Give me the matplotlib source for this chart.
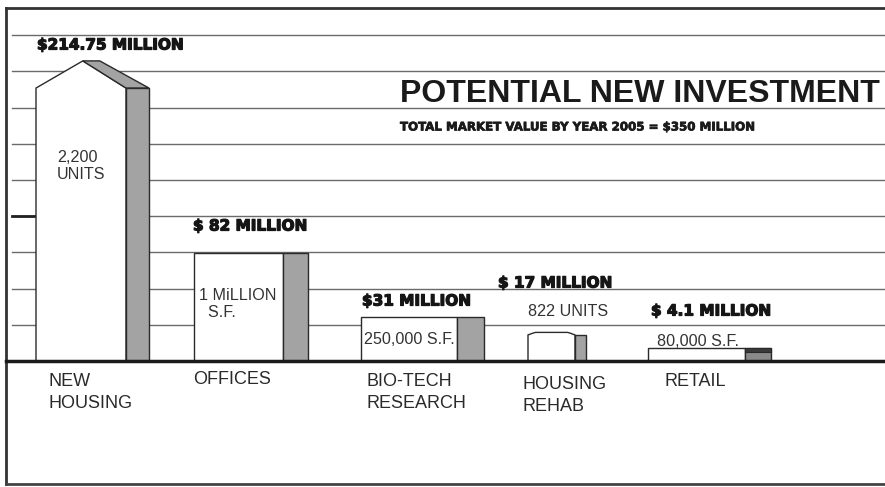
import numpy as np
import matplotlib.pyplot as plt
import matplotlib.patheffects as pe
from matplotlib.patches import Polygon, Rectangle

# data (bar heights in grid steps)
categories = ["NEW\nHOUSING", "OFFICES", "BIO-TECH\nRESEARCH", "HOUSING\nREHAB", "RETAIL"]
value_labels = ["$214.75 MILLION", "$ 82 MILLION", "$31 MILLION", "$ 17 MILLION", "$ 4.1 MILLION"]
size_labels = ["2,200\nUNITS", "1 MiLLION\n  S.F.", "250,000 S.F.", "822 UNITS", "80,000 S.F."]
heights = [7.54, 2.98, 1.22, 0.72, 0.36]
housing_peak = 8.29
rehab_arch = 0.07

# layout (pixels across, grid steps up)
BASE, UNIT = 361, 36.2
def gy(p):
    return (BASE - p) / UNIT

front_x = [36, 194, 361, 528, 648]
front_w = [90, 89, 96, 47, 97]
side_w = [23, 25, 27, 11, 26]
value_pos = [(37, 45), (193, 226), (362, 301), (498, 283), (651, 311)]
size_pos = [(57, 166), (199, 304), (364, 339), (528, 311), (657, 341)]
cat_x = [48, 193, 366, 522, 665]
cat_top = [373, 371, 373, 376, 373]

plt.rcParams['font.family'] = ['Liberation Sans', 'DejaVu Sans']
fig = plt.figure(figsize=(8.85, 4.87), dpi=100)
ax = fig.add_axes([0, 0, 1, 1])
ax.set_xlim(0, 885)
ax.set_ylim(gy(487), gy(0))
ax.axis('off')

edge = '#2a2a2a'
side_col = '#a3a3a3'
heavy = [pe.withStroke(linewidth=0.9, foreground='#151515')]

# grid
for k in range(1, 10):
    ax.plot([12, 885], [k, k], color='#6a6a6a', lw=1.0, zorder=1)
ax.plot([12, 35], [4, 4], color='#222222', lw=2, zorder=1)

# frame + baseline
ax.plot([6, 6], [gy(8), gy(484)], color='#333333', lw=2, zorder=5)
ax.plot([6, 885], [gy(8), gy(8)], color='#333333', lw=2, zorder=5)
ax.plot([6, 885], [gy(484), gy(484)], color='#444444', lw=2, zorder=5)

for i, h in enumerate(heights):
    x0, w, s = front_x[i], front_w[i], side_w[i]
    if i == 0:
        px = x0 + 0.52 * w
        ax.add_patch(Polygon([(x0, 0), (x0, h), (px, housing_peak), (x0 + w, h), (x0 + w, 0)],
                             closed=True, fc='white', ec=edge, lw=1, zorder=3))
        ax.add_patch(Polygon([(px, housing_peak), (px + 17, housing_peak), (x0 + w + s, h), (x0 + w, h)],
                             closed=True, fc=side_col, ec=edge, lw=1, zorder=3))
    elif i == 3:
        t = np.linspace(0, 1, 20)
        top = [(x0 + w * tt, h + rehab_arch * min(1, 2.2 * np.sin(np.pi * tt))) for tt in t]
        ax.add_patch(Polygon([(x0, 0)] + top + [(x0 + w, 0)],
                             closed=True, fc='white', ec=edge, lw=1, zorder=3))
    else:
        ax.add_patch(Rectangle((x0, 0), w, h, fc='white', ec=edge, lw=1, zorder=3))
    sc = '#8a8a8a' if i == 4 else side_col
    ax.add_patch(Rectangle((x0 + w, 0), s, h, fc=sc, ec=edge, lw=1, zorder=3))
    if i == 4:
        ax.add_patch(Rectangle((x0 + w, h * 0.7), s, h * 0.3, fc='#3a3a3a', ec=edge, lw=0.8, zorder=4))

    vx, vy = value_pos[i]
    ax.text(vx, gy(vy), value_labels[i], family='DejaVu Sans', fontweight='bold',
            fontsize=11, color='#151515', ha='left', va='center', zorder=6, path_effects=heavy)
    sx, sy = size_pos[i]
    ax.text(sx, gy(sy), size_labels[i], fontsize=11.6, color='#333333', ha='left', va='center',
            linespacing=1.2, zorder=6)
    ax.text(cat_x[i], gy(cat_top[i]), categories[i], fontsize=13, color='#2a2a2a',
            ha='left', va='top', linespacing=1.4, zorder=6)

ax.plot([6, 885], [0, 0], color='#1a1a1a', lw=2.5, zorder=5)

ax.text(400, gy(94), "POTENTIAL NEW INVESTMENT", fontsize=23, fontweight='bold',
        color='#1a1a1a', ha='left', va='center', zorder=6)
ax.text(400, gy(127), "TOTAL MARKET VALUE BY YEAR 2005 = $350 MILLION", family='DejaVu Sans',
        fontweight='bold', fontsize=8.5, color='#1a1a1a', ha='left', va='center', zorder=6,
        path_effects=[pe.withStroke(linewidth=0.5, foreground='#1a1a1a')])

fig.savefig("out.png", dpi=100)
